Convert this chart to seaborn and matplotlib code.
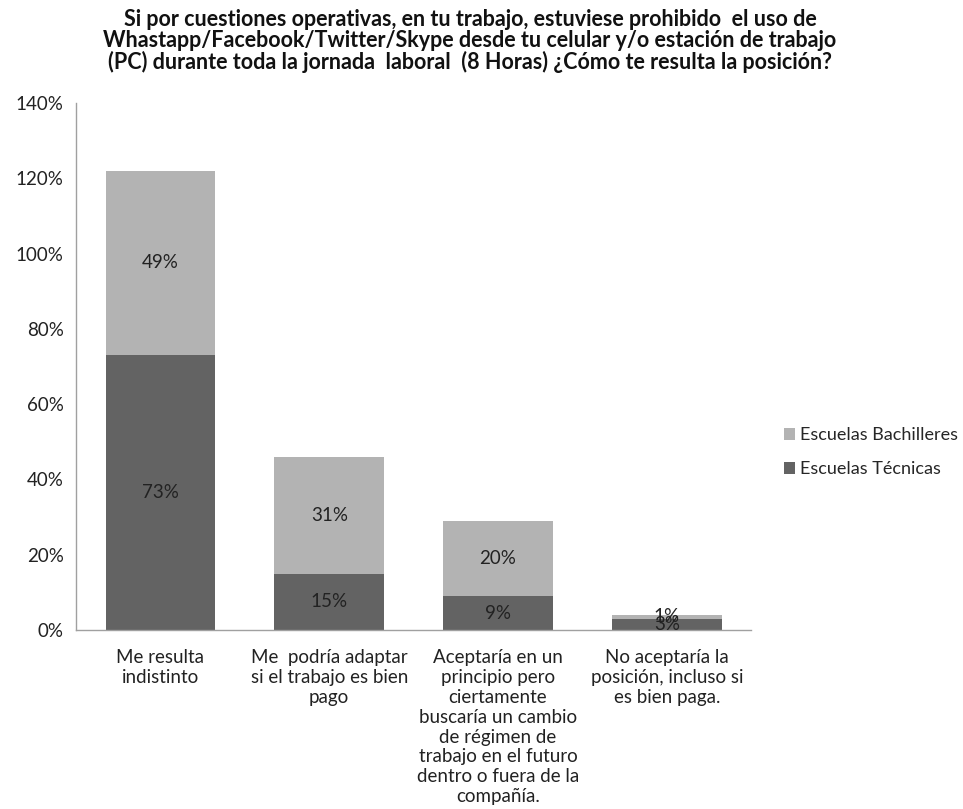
import matplotlib
matplotlib.use("Agg")
import matplotlib.pyplot as plt
import seaborn as sns
import pandas as pd
from matplotlib.patches import Patch
from matplotlib.ticker import FuncFormatter

categories = [
    "Me resulta\nindistinto",
    "Me  podría adaptar\nsi el trabajo es bien\npago",
    "Aceptaría en un\nprincipio pero\nciertamente\nbuscaría un cambio\nde régimen de\ntrabajo en el futuro\ndentro o fuera de la\ncompañía.",
    "No aceptaría la\nposición, incluso si\nes bien paga.",
]
tecnicas = [73, 15, 9, 3]
bachilleres = [49, 31, 20, 1]
series_names = ["Escuelas Bachilleres", "Escuelas Técnicas"]
y_ticks = [0, 20, 40, 60, 80, 100, 120, 140]

title = ("Si por cuestiones operativas, en tu trabajo, estuviese prohibido  el uso de\n"
         "Whastapp/Facebook/Twitter/Skype desde tu celular y/o estación de trabajo\n"
         "(PC) durante toda la jornada  laboral  (8 Horas) ¿Cómo te resulta la posición?")

sns.set_style("white")
plt.rcParams["font.family"] = ["Lato", "DejaVu Sans"]

light = "#b3b3b3"
dark = "#636363"

df = pd.DataFrame({
    "cat": categories,
    "tec": tecnicas,
    "bach": bachilleres,
})
df["total"] = df["tec"] + df["bach"]

fig = plt.figure(figsize=(9.63, 8.09), dpi=100)
ax = fig.add_axes([0.079, 0.2213, 0.701, 0.6514])

# stacked bars: full totals in light gray, Técnicas overlaid in dark gray
sns.barplot(data=df, x="cat", y="total", color=light, saturation=1,
            width=0.65, ax=ax, linewidth=0)
sns.barplot(data=df, x="cat", y="tec", color=dark, saturation=1,
            width=0.65, ax=ax, linewidth=0)

for i, (t, b) in enumerate(zip(tecnicas, bachilleres)):
    ax.text(i, t / 2, f"{t}%", ha="center", va="center", fontsize=13.5, color="#222222")
    ax.text(i, t + b / 2, f"{b}%", ha="center", va="center", fontsize=13.5, color="#222222")

ax.set_ylim(0, 140)
ax.set_xlim(-0.5, 3.5)
ax.set_yticks(y_ticks)
ax.yaxis.set_major_formatter(FuncFormatter(lambda v, p: f"{int(v)}%"))
ax.set_xlabel("")
ax.set_ylabel("")
ax.tick_params(axis="both", length=0, labelsize=13.5, colors="#222222")
ax.tick_params(axis="y", pad=9)
ax.tick_params(axis="x", pad=14)
for lbl in ax.get_xticklabels():
    lbl.set_linespacing(1.2)
    lbl.set_verticalalignment("top")

for side in ["top", "right"]:
    ax.spines[side].set_visible(False)
for side in ["left", "bottom"]:
    ax.spines[side].set_color("#a0a0a0")
    ax.spines[side].set_linewidth(1)

fig.text(0.488, 0.989, title, ha="center", va="top", fontsize=15.5,
         fontweight="bold", linespacing=1.0, color="#111111")

handles = [Patch(facecolor=light, edgecolor="none"), Patch(facecolor=dark, edgecolor="none")]
fig.legend(handles, series_names, loc="center left", bbox_to_anchor=(0.797, 0.441),
           frameon=False, fontsize=13, handlelength=0.6, handleheight=0.6,
           handletextpad=0.3, labelspacing=1.0)

fig.savefig("out.png", dpi=100)
